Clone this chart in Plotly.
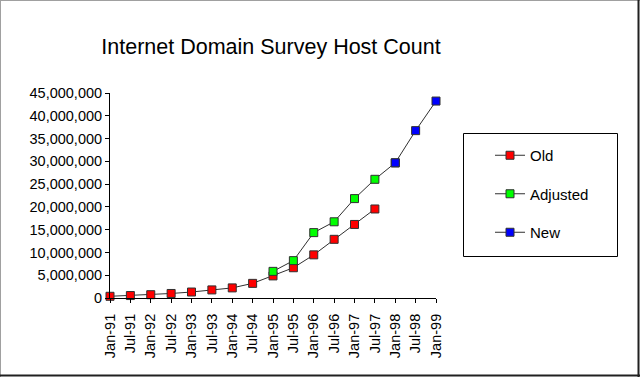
import plotly.graph_objects as go

months = ["Jan-91", "Jul-91", "Jan-92", "Jul-92", "Jan-93", "Jul-93", "Jan-94", "Jul-94",
          "Jan-95", "Jul-95", "Jan-96", "Jul-96", "Jan-97", "Jul-97", "Jan-98", "Jul-98", "Jan-99"]

old_months = months[0:14]
old_values = [376000, 535000, 727000, 992000, 1313000, 1776000, 2217000, 3212000,
              4852000, 6642000, 9472000, 12881000, 16146000, 19540000]

adj_months = months[8:15]
adj_values = [5846000, 8200000, 14352000, 16729000, 21819000, 26053000, 29670000]

new_months = months[14:17]
new_values = [29670000, 36739000, 43230000]

W, H = 640, 377
L, R, T, B = 110, 204, 93, 79

fig = go.Figure()

def add(name, xs, ys, color, group):
    fig.add_trace(go.Scatter(
        x=xs, y=ys, name=name, mode="lines+markers", legendgroup=group,
        line=dict(color="#303030", width=1),
        marker=dict(symbol="square", size=8, color=color, line=dict(color="#303030", width=1)),
        cliponaxis=False,
    ))

add("Old", old_months, old_values, "#ff0000", "a")
add("Adjusted", adj_months, adj_values, "#00ff00", "b")
add("New", new_months, new_values, "#0000ff", "c")

font = "Arial, Liberation Sans, sans-serif"

pw, ph = W - L - R, H - T - B
def px(x):
    return (x - L) / pw
def py(y):
    return 1 - (y - T) / ph

fig.update_layout(
    width=W, height=H,
    margin=dict(l=L, r=R, t=T, b=B, pad=0),
    paper_bgcolor="white", plot_bgcolor="white",
    font=dict(family=font, size=14, color="black"),
    title=dict(text="Internet Domain Survey Host Count", x=271 / W, xanchor="center",
               y=1 - 46 / H, yanchor="middle", font=dict(size=21.5, family=font, color="black")),
    showlegend=True,
    legend=dict(
        x=px(490), xanchor="left",
        y=py(139), yanchor="top",
        borderwidth=0, bgcolor="rgba(0,0,0,0)",
        font=dict(size=15, family=font),
        traceorder="grouped", tracegroupgap=16,
    ),
    xaxis=dict(
        type="category", categoryorder="array", categoryarray=months,
        range=[0, 16], tickvals=months, ticktext=months,
        tickangle=-90, showgrid=False, zeroline=False,
        showline=True, linecolor="black", linewidth=1,
        ticks="outside", ticklen=4, tickcolor="black",
        tickfont=dict(size=14.5), ticklabelstandoff=5,
    ),
    yaxis=dict(
        range=[0, 45000000], dtick=5000000, tick0=0, tickformat=",d",
        showgrid=False, zeroline=False,
        showline=True, linecolor="black", linewidth=1,
        ticks="outside", ticklen=4, tickcolor="black",
        tickfont=dict(size=14.5),
    ),
)

# legend frame
fig.add_shape(type="rect", xref="paper", yref="paper", x0=px(463.5), x1=px(617.5), y0=py(133.5), y1=py(256.5),
              line=dict(color="black", width=1), fillcolor="rgba(0,0,0,0)", layer="below")

# image frame
fig.add_shape(type="line", xref="paper", yref="paper", x0=px(0.5), x1=px(640), y0=py(0.5), y1=py(0.5),
              line=dict(color="#a0a0a0", width=1))
fig.add_shape(type="line", xref="paper", yref="paper", x0=px(0.5), x1=px(0.5), y0=py(0), y1=py(377),
              line=dict(color="#a0a0a0", width=1))
fig.add_shape(type="line", xref="paper", yref="paper", x0=px(638.5), x1=px(638.5), y0=py(0), y1=py(377),
              line=dict(color="#202020", width=2))
fig.add_shape(type="line", xref="paper", yref="paper", x0=px(0), x1=px(640), y0=py(375.5), y1=py(375.5),
              line=dict(color="#202020", width=2))

fig.write_html("out.html", config={"displayModeBar": False},
               post_script="document.body.style.margin='0';document.body.style.overflow='hidden';")
